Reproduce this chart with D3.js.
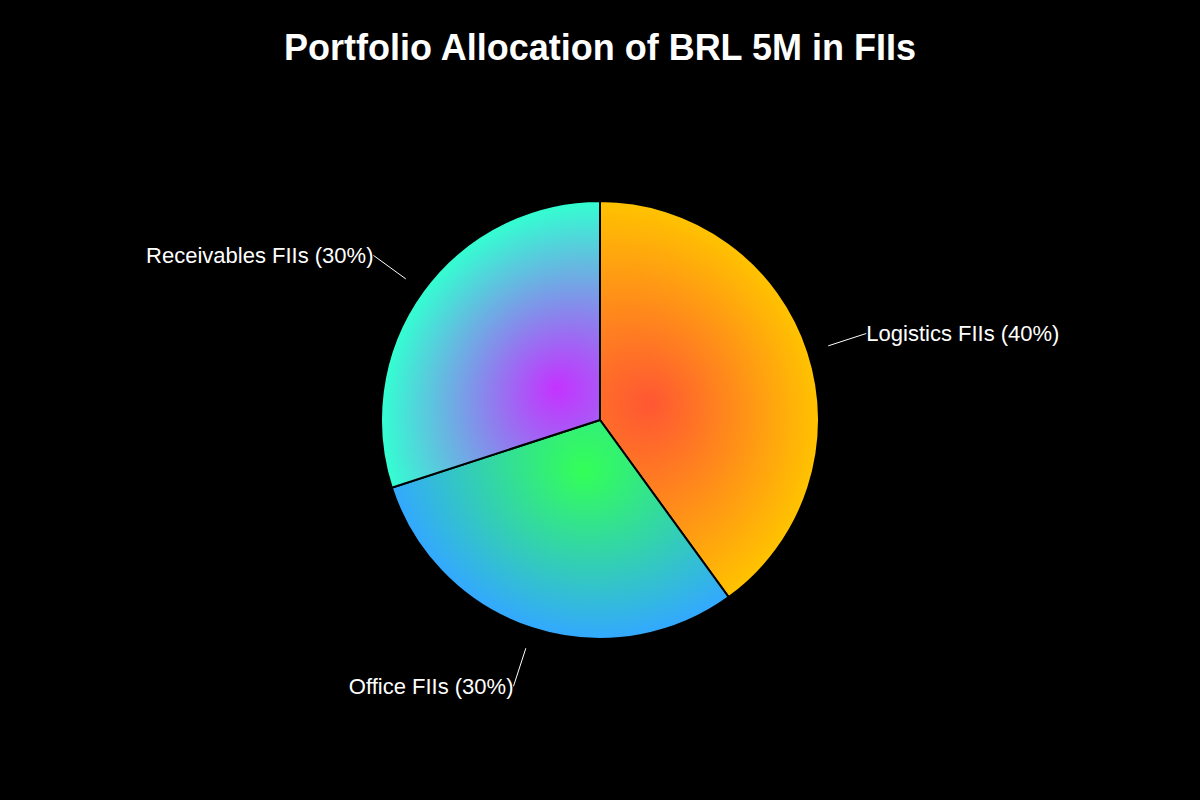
<!DOCTYPE html>
<html><head><script src="https://d3js.org/d3.v7.min.js"></script>
<style>body{margin:0;background:#000}</style></head><body>
<svg id="chart" width="1200" height="800"></svg>
<script>
const categories=["Logistics FIIs","Office FIIs","Receivables FIIs"];
const values=[40,30,30];
const innerColors=["#FF5733","#33FF57","#C433FF"];
const outerColors=["#FFC300","#33A8FF","#33FFD1"];
const title="Portfolio Allocation of BRL 5M in FIIs";

const width=1200,height=800,radius=219;
const svg=d3.select("#chart");
svg.append("rect").attr("width",width).attr("height",height).attr("fill","#000");
const defs=svg.append("defs");
const g=svg.append("g").attr("transform",`translate(600,420)`);
const pie=d3.pie().sort(null).value(d=>d.value);
const data=categories.map((c,i)=>({name:c,value:values[i],i}));
const arcs=pie(data);
const arc=d3.arc().innerRadius(0).outerRadius(radius);

arcs.forEach(d=>{
  const c=arc.centroid(d);
  const gr=defs.append("radialGradient").attr("id","grad"+d.data.i)
    .attr("gradientUnits","userSpaceOnUse")
    .attr("cx",0).attr("cy",0).attr("r",radius)
    .attr("fx",c[0]/2).attr("fy",c[1]/2);
  gr.append("stop").attr("offset","0%").attr("stop-color",innerColors[d.data.i]);
  gr.append("stop").attr("offset","100%").attr("stop-color",outerColors[d.data.i]);
});

g.selectAll("path.slice").data(arcs).enter().append("path")
  .attr("class","slice")
  .attr("d",arc)
  .attr("fill",d=>`url(#grad${d.data.i})`)
  .attr("stroke","#000").attr("stroke-width",2);

const pt=(a,r)=>{const ang=(a.startAngle+a.endAngle)/2;return [r*Math.sin(ang),-r*Math.cos(ang)];};
g.selectAll("line.lead").data(arcs).enter().append("line")
  .attr("class","lead")
  .attr("x1",d=>pt(d,240)[0]).attr("y1",d=>pt(d,240)[1])
  .attr("x2",d=>pt(d,280)[0]).attr("y2",d=>pt(d,280)[1])
  .attr("stroke","#fff").attr("stroke-width",1);

g.selectAll("text.lab").data(arcs).enter().append("text")
  .attr("class","lab")
  .attr("x",d=>pt(d,280)[0]).attr("y",d=>pt(d,280)[1])
  .attr("dy","0.35em")
  .attr("text-anchor",d=>pt(d,280)[0]>0?"start":"end")
  .attr("fill","#fff")
  .style("font-family","'Liberation Sans', Arial, sans-serif")
  .style("font-size","22px")
  .text(d=>`${d.data.name} (${d.data.value}%)`);

svg.append("text").attr("x",600).attr("y",60)
  .attr("text-anchor","middle").attr("fill","#fff")
  .style("font-family","'Liberation Sans', Arial, sans-serif")
  .style("font-size","36px").style("font-weight","bold")
  .text(title);
</script></body></html>
